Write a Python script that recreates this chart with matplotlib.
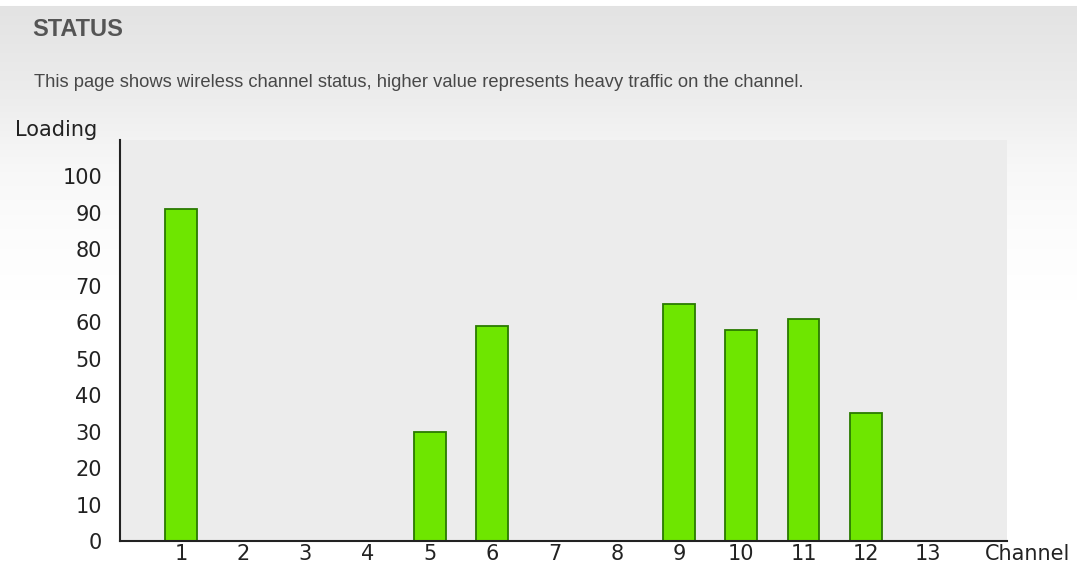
import numpy as np
import matplotlib
matplotlib.use("Agg")
import matplotlib.pyplot as plt

# Channel loading values read from the status page
channels = [1, 2, 3, 4, 5, 6, 7, 8, 9, 10, 11, 12, 13]
loading = [91, 0, 0, 0, 30, 59, 0, 0, 65, 58, 61, 35, 0]
yticks = [0, 10, 20, 30, 40, 50, 60, 70, 80, 90, 100]

fig = plt.figure(figsize=(10.77, 5.66), dpi=100)

# page background: grey header fading to white
bg = fig.add_axes([0, 0, 1, 1], zorder=0)
rows = np.linspace(0, 566, 566)
shade = np.interp(rows, [0, 5, 6, 100, 140, 170, 235, 300, 566],
                  [1.0, 1.0, 0.89, 0.93, 0.955, 0.972, 0.99, 1.0, 1.0])
grad = np.repeat(shade[:, None], 4, axis=1)
bg.imshow(np.dstack([grad, grad, grad]), aspect="auto", extent=[0, 1, 0, 1])
bg.axis("off")

fig.text(32 / 1077, 1 - 30 / 566, "STATUS", family="Liberation Sans",
         weight="bold", fontsize=17, color="#555555", va="center")
fig.text(34 / 1077, 1 - 83 / 566,
         "This page shows wireless channel status, higher value represents heavy traffic on the channel.",
         family="Liberation Sans", fontsize=13.2, color="#484848", va="center")

ax = fig.add_axes([120 / 1077, 25 / 566, 887 / 1077, 401 / 566], zorder=1)
ax.set_facecolor("#ececec")
ax.bar(channels, loading, width=0.51, color="#6ee600", edgecolor="#2a7a00",
       linewidth=1.3, zorder=2)

ax.set_xlim(0.02, 14.27)
ax.set_ylim(0, 110)
ax.set_xticks(channels)
ax.set_yticks(yticks)
ax.tick_params(axis="both", length=0, labelsize=15, colors="#222222")
ax.tick_params(axis="x", pad=2)
ax.tick_params(axis="y", pad=13)

for side in ["top", "right"]:
    ax.spines[side].set_visible(False)
for side in ["left", "bottom"]:
    ax.spines[side].set_color("#222222")
    ax.spines[side].set_linewidth(1.5)

fig.text(15 / 1077, 1 - 130 / 566, "Loading", fontsize=15, color="#222222",
         va="center")
fig.text(985 / 1077, 1 - 554 / 566, "Channel", fontsize=15, color="#222222",
         va="center")

fig.savefig("out.png", dpi=100)
